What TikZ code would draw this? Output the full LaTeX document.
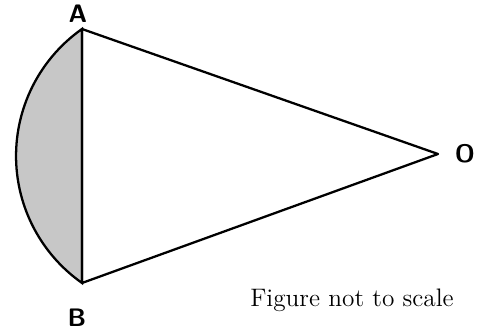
\documentclass[tikz,border=0pt]{standalone}
\usepackage{amsmath,amssymb}

\begin{document}
\begin{tikzpicture}[x=0.02cm,y=-0.02cm,
  lab/.style={font=\Large\sffamily\bfseries,inner sep=0pt},
  side/.style={draw=black,line width=1.3pt,line join=round},
  seg/.style={fill=black!22,draw=black,line width=1.3pt}]
  \useasboundingbox (0,0) rectangle (485,331);
  % ends of the chord and the far point
  \coordinate (A) at (82,29);
  \coordinate (B) at (82,283);
  \coordinate (O) at (438,154);
  % shaded segment between arc and chord
  \path[seg] (A) arc[start angle=234.9,end angle=125.1,radius=155.2] -- cycle;
  % triangle
  \draw[side] (A) -- (O) -- (B) -- cycle;
  % labels
  \node[lab] (la) at (78,14) {A};
  \node[lab] (lb) at (77,318) {B};
  \node[lab] (lo) at (465,154) {O};
  \node[font=\Large,inner sep=0pt] (note) at (352,300) {Figure not to scale};
\end{tikzpicture}
\end{document}
